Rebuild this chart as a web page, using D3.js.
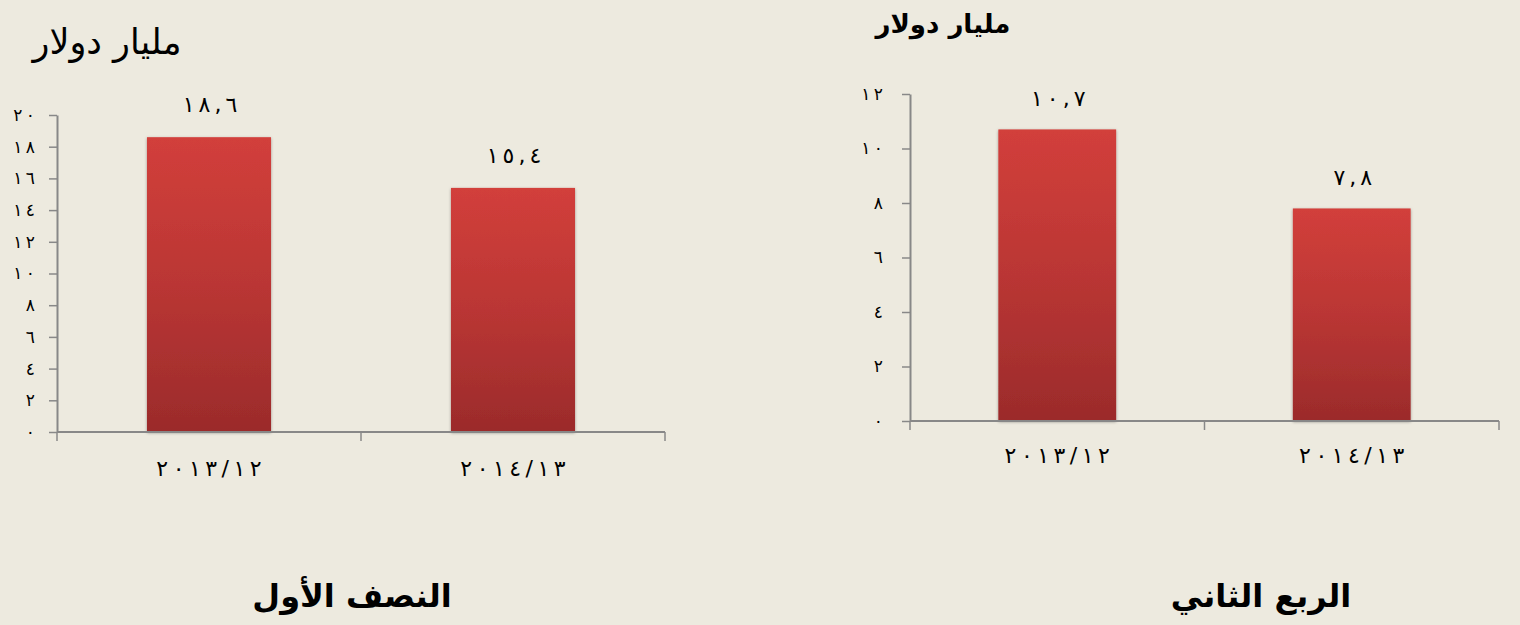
<!DOCTYPE html>
<html><head><meta charset="utf-8">
<script src="https://cdn.jsdelivr.net/npm/d3@7"></script>
<style>
html,body{margin:0;padding:0;background:#EDEADF;}
svg{display:block;}
text{font-family:"DejaVu Sans",sans-serif;fill:#000;}
</style></head>
<body>
<svg id="c" width="1520" height="625"></svg>
<script>
// ---- data ----
const categories = ["2013/12", "2014/13"];
const halfValues = [18.6, 15.4];
const quarterValues = [10.7, 7.8];
const halfTicks = [0, 2, 4, 6, 8, 10, 12, 14, 16, 18, 20];
const quarterTicks = [0, 2, 4, 6, 8, 10, 12];
const unitLabel = "مليار دولار";
const halfTitle = "النصف الأول";
const quarterTitle = "الربع الثاني";

const arabicDigits = ["٠","١","٢","٣","٤","٥","٦","٧","٨","٩"];
function toArabic(s){ return String(s).replace(/[0-9]/g, d => arabicDigits[+d]).replace(".", ","); }
function spaced(sel, gap){
  // widen glyph spacing (letter-spacing is ignored for Arabic runs)
  sel.each(function(){
    const t = d3.select(this); const s = t.text();
    t.attr("dx", Array.from(s).map((c,i)=> i===0 ? 0 : gap).join(" "));
  });
}

const svg = d3.select("#c");
const defs = svg.append("defs");
const grad = defs.append("linearGradient").attr("id","barGrad").attr("x1",0).attr("y1",0).attr("x2",0).attr("y2",1);
grad.append("stop").attr("offset","0%").attr("stop-color","#D23F3B");
grad.append("stop").attr("offset","50%").attr("stop-color","#BA3634");
grad.append("stop").attr("offset","100%").attr("stop-color","#9B2B2B");
const f = defs.append("filter").attr("id","sh").attr("x","-10%").attr("y","-10%").attr("width","120%").attr("height","120%");
f.append("feDropShadow").attr("dx",0).attr("dy",1).attr("stdDeviation",1.6).attr("flood-color","#000").attr("flood-opacity",0.35);

function drawChart(o){
  const g = svg.append("g");
  const x = d3.scaleBand().domain(categories).range([o.x0, o.x1]).paddingInner(o.pad).paddingOuter(o.pad/2);
  const y = d3.scaleLinear().domain([0, d3.max(o.ticks)]).range([o.y0, o.y1]);

  // bars
  g.selectAll("rect.bar").data(o.values).join("rect").attr("class","bar")
    .attr("x",(d,i)=>x(categories[i])).attr("width",x.bandwidth())
    .attr("y",d=>y(d)).attr("height",d=>y(0)-y(d))
    .attr("fill","url(#barGrad)").attr("filter","url(#sh)");

  // y axis
  const ya = g.append("g").attr("transform",`translate(${o.x0},0)`)
    .call(d3.axisLeft(y).tickValues(o.ticks).tickSizeOuter(0).tickSizeInner(8).tickPadding(o.tickPad).tickFormat(toArabic));
  ya.select(".domain").attr("stroke","#888").attr("stroke-width",2);
  ya.selectAll(".tick line").attr("stroke","#888").attr("stroke-width",1.5);
  ya.selectAll(".tick text").attr("font-size",o.tickFont).attr("font-family","DejaVu Sans").attr("direction","ltr").call(spaced,3.5);

  // x axis
  const xa = g.append("g").attr("transform",`translate(0,${o.y0})`)
    .call(d3.axisBottom(x).tickSize(0).tickPadding(o.xLabPad).tickFormat(toArabic));
  xa.select(".domain").remove();
  xa.selectAll(".tick text").attr("font-size",o.xFont).attr("font-family","DejaVu Sans")
    .attr("direction","ltr").call(spaced,4.5);
  g.append("line").attr("x1",o.x0).attr("x2",o.x1).attr("y1",o.y0).attr("y2",o.y0).attr("stroke","#888").attr("stroke-width",2);
  const bounds = d3.range(categories.length+1).map(i => o.x0 + i*x.step());
  g.selectAll("line.xt").data(bounds).join("line").attr("class","xt")
    .attr("x1",d=>d).attr("x2",d=>d).attr("y1",o.y0).attr("y2",o.y0+9).attr("stroke","#888").attr("stroke-width",1.5);

  // value labels
  g.selectAll("text.val").data(o.values).join("text").attr("class","val")
    .attr("x",(d,i)=>x(categories[i])+x.bandwidth()/2+1).attr("y",d=>y(d)-o.valOff)
    .attr("text-anchor","middle").attr("font-size",o.valFont).attr("direction","ltr")
    .text(d=>toArabic(d)).call(spaced,4);

  // unit label
  g.append("text").attr("x",o.unitX).attr("y",o.unitY).attr("text-anchor","middle")
    .attr("font-size",o.unitFont).attr("font-weight",o.unitWeight).attr("direction","rtl").text(unitLabel);
  // title
  g.append("text").attr("x",o.titleX).attr("y",o.titleY).attr("text-anchor","middle")
    .attr("font-size",32).attr("font-weight","bold").attr("direction","rtl").text(o.title);
}

drawChart({values:halfValues, ticks:halfTicks, x0:57, x1:665, y0:432, y1:115, pad:0.592,
  tickPad:14, tickFont:17, xFont:22, xLabPad:28, valFont:22, valOff:25,
  unitX:107, unitY:54, unitFont:35, unitWeight:"normal", title:halfTitle, titleX:352, titleY:607});
drawChart({values:quarterValues, ticks:quarterTicks, x0:910, x1:1499, y0:421, y1:94, pad:0.6,
  tickPad:19, tickFont:17, xFont:22, xLabPad:26, valFont:22, valOff:23,
  unitX:943, unitY:33, unitFont:26, unitWeight:"bold", title:quarterTitle, titleX:1261, titleY:607});
</script>
</body></html>
